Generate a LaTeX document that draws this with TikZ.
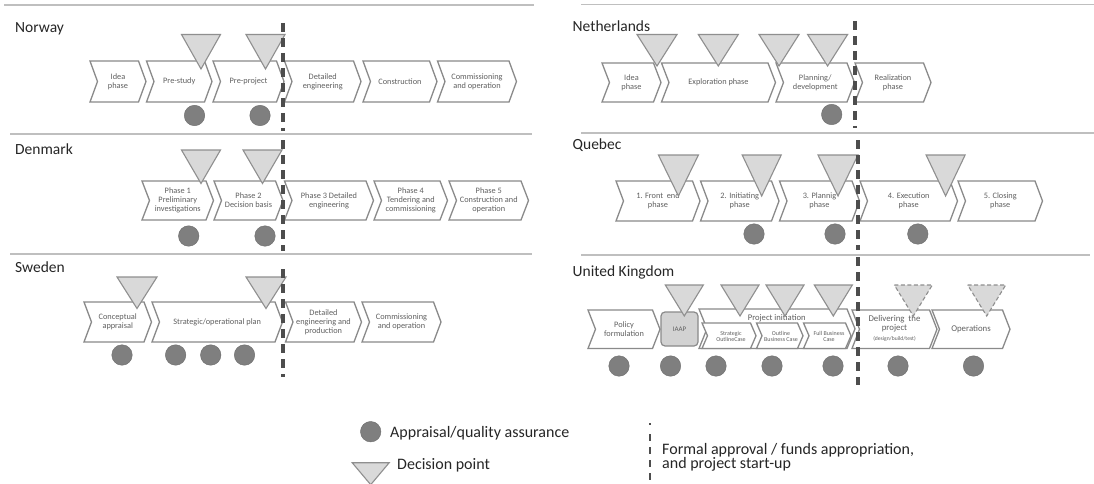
\documentclass[tikz,border=0pt]{standalone}
\usepackage{fontspec}
\setmainfont{Carlito}
\usetikzlibrary{calc}

\definecolor{edge}{HTML}{8A8A8A}
\definecolor{lbl}{HTML}{606060}
\definecolor{trifill}{HTML}{D9D9D9}
\definecolor{tririm}{HTML}{8F8F8F}
\definecolor{dotfill}{HTML}{7F7F7F}
\definecolor{panelgray}{HTML}{BFBFBF}
\definecolor{gate}{HTML}{4D4D4D}
\definecolor{boxfill}{HTML}{D2D2D2}

\tikzset{
  chevbox/.style={draw=edge, line width=1.3pt, fill=white, line join=miter},
  chevtext/.style={text=lbl, font=\fontsize{8.3}{9}\selectfont, align=center, inner sep=0pt},
  smalltext/.style={text=lbl, font=\fontsize{6}{6.8}\selectfont, align=center, inner sep=0pt},
  decision/.style={draw=tririm, line width=1.1pt, fill=trifill, line join=miter},
  decisionopen/.style={decision, dash pattern=on 4pt off 2.5pt},
  appraisal/.style={circle, fill=dotfill, draw=dotfill!85!black, line width=0.4pt, minimum size=20.5pt, inner sep=0pt},
  gateline/.style={draw=gate, line width=3.3pt, dash pattern=on 9pt off 6pt},
  panelrule/.style={draw=panelgray, line width=1.4pt},
  country/.style={font=\fontsize{15.5}{18}\selectfont, text=black!85, anchor=west, inner sep=0pt},
  legendtext/.style={font=\fontsize{16}{14.5}\selectfont, text=black!85, anchor=west, inner sep=0pt, align=left},
  iaapbox/.style={draw=edge, line width=1.2pt, fill=boxfill, rounded corners=4pt,
    minimum width=37pt, minimum height=34pt, inner sep=0pt, text=lbl, font=\fontsize{7}{8}\selectfont},
}

% chevron depth (notch and tip)
\def\cd{7.5}
% #1 name, #2 left x, #3 tip x, #4 top y, #5 bottom y, #6 label
\newcommand\chev[6]{%
  \draw[chevbox] (#2,#4) -- ({#3-\cd},#4) -- (#3,{(#4+#5)/2}) -- ({#3-\cd},#5)
    -- (#2,#5) -- ({#2+\cd},{(#4+#5)/2}) -- cycle;
  \node[chevtext] (#1) at ({(#2+#3)/2},{(#4+#5)/2}) {#6};}
% decision triangle: #1 style, #2 centre x, #3 top y, #4 half width, #5 height
\newcommand\dpt[5]{%
  \draw[#1] ({#2-#4},#3) -- ({#2+#4},#3) -- (#2,{#3+#5}) -- cycle;}

\begin{document}
\begin{tikzpicture}[x=1pt,y=-1pt]
\useasboundingbox (0,0) rectangle (1094,484);
\fill[white] (0,0) rectangle (1094,484);

% ---------------- Norway ----------------
\draw[panelrule] (4,5) -- (534,5);
\node[country] (norway) at (15,29) {Norway};
\chev{no1}{90}{146}{61}{102}{Idea\\phase}
\chev{no2}{146.5}{212}{61}{102}{Pre-study}
\chev{no3}{213}{284}{61}{102}{Pre-project}
\chev{no4}{284.5}{361}{61}{102}{Detailed\\engineering}
\chev{no5}{363}{437}{61}{102}{Construction}
\chev{no6}{437.5}{516.5}{61}{102}{Commissioning\\and operation}
\dpt{decision}{201}{34.5}{19.5}{34.5}
\dpt{decision}{265.5}{34.5}{19.5}{34.5}
\node[appraisal] (no-a1) at (194.5,115.5) {};
\node[appraisal] (no-a2) at (260,115.5) {};
\draw[gateline] (283,23) -- (283,131);

% ---------------- Denmark ----------------
\draw[panelrule] (10,134) -- (532,134);
\node[country] (denmark) at (15,149) {Denmark};
\chev{dk1}{142}{213.5}{181}{220}{Phase 1\\Preliminary\\investigations}
\chev{dk2}{214}{283}{181}{220}{Phase 2\\Decision basis}
\chev{dk3}{284.5}{373.5}{181}{220}{Phase 3 Detailed\\engineering}
\chev{dk4}{374}{447.5}{181}{220}{Phase 4\\Tendering and\\commissioning}
\chev{dk5}{449}{528.5}{181}{220}{Phase 5\\Construction and\\operation}
\dpt{decision}{201}{150}{19.5}{33.5}
\dpt{decision}{262.5}{150}{19.5}{33.5}
\node[appraisal] (dk-a1) at (188.7,236) {};
\node[appraisal] (dk-a2) at (265,236) {};
\draw[gateline] (283,140) -- (283,250.5);

% ---------------- Sweden ----------------
\draw[panelrule] (10,254) -- (532,254);
\node[country] (sweden) at (15,267) {Sweden};
\chev{se1}{84}{151.5}{302}{342}{Conceptual\\appraisal}
\chev{se2}{152}{282.5}{302}{342}{Strategic/operational plan}
\chev{se3}{285.5}{361.5}{302}{342}{Detailed\\engineering and\\production}
\chev{se4}{362}{441}{302}{342}{Commissioning\\and operation}
\dpt{decision}{137}{277}{20}{31.5}
\dpt{decision}{266}{277}{20}{31.5}
\node[appraisal] (se-a1) at (122,355) {};
\node[appraisal] (se-a2) at (175.6,355) {};
\node[appraisal] (se-a3) at (210.7,355) {};
\node[appraisal] (se-a4) at (244.5,355) {};
\draw[gateline] (283,269) -- (283,377);

% ---------------- Netherlands ----------------
\draw[panelrule] (581,4.5) -- (1094,4.5);
\node[country] (netherlands) at (572.5,26) {Netherlands};
\chev{nl1}{602}{661}{63}{102}{Idea\\phase}
\chev{nl2}{661.5}{775.5}{63}{102}{Exploration phase}
\chev{nl3}{776}{854.5}{63}{102}{Planning/\\development}
\chev{nl4}{855}{931}{63}{102}{Realization\\phase}
\dpt{decision}{657}{34.5}{20}{31.5}
\dpt{decision}{718.3}{34.5}{20}{31.5}
\dpt{decision}{779}{34.5}{20}{31.5}
\dpt{decision}{827.6}{34.5}{20}{31.5}
\node[appraisal] (nl-a1) at (831.7,114.5) {};
\draw[gateline] (855,21) -- (855,128);

% ---------------- Quebec ----------------
\draw[panelrule] (581,133) -- (1094,133);
\node[country] (quebec) at (572.5,145.6) {Quebec};
\chev{qc1}{616}{700}{181}{221}{1. Front~ end\\phase}
\chev{qc2}{700.5}{779}{181}{221}{2. Initiating\\phase}
\chev{qc3}{779.5}{859.5}{181}{221}{3. Plannig\\phase}
\chev{qc4}{860}{957.5}{181}{221}{4. Execution\\phase}
\chev{qc5}{958}{1042.5}{181}{221}{5. Closing\\phase}
\dpt{decision}{678.4}{155}{20}{41}
\dpt{decision}{761.7}{155}{19.5}{41}
\dpt{decision}{838}{155}{20}{41}
\dpt{decision}{945.6}{155}{19.5}{41}
\node[appraisal] (qc-a1) at (754,234) {};
\node[appraisal] (qc-a2) at (835,234) {};
\node[appraisal] (qc-a3) at (917.8,234) {};
\draw[gateline] (858,140) -- (858,249.7);

% ---------------- United Kingdom ----------------
\draw[panelrule] (581,255) -- (1090,255);
\node[country] (uk) at (572.5,272.5) {United Kingdom};
\chev{uk1}{588}{660}{310}{348.5}{Policy\\formulation}
\node[iaapbox] (uk2) at (679.5,329) {IAAP};
% project initiation with its three business cases
\draw[chevbox] (699,309) -- (847,309) -- (855,328.75) -- (847,348.5)
  -- (699,348.5) -- (707,328.75) -- cycle;
\node[chevtext, font=\fontsize{8.6}{9}\selectfont] (uk3) at (776.7,318) {Project initiation};
{\def\cd{5.5}
\chev{uk3a}{702}{756}{323}{348.5}{}
\chev{uk3b}{756.5}{803}{323}{348.5}{}
\chev{uk3c}{803.5}{851}{323}{348.5}{}
}
\node[smalltext] (uk3a-t) at (731,336.5) {Strategic\\OutlineCase};
\node[smalltext] (uk3b-t) at (781,336.5) {Outline\\Business Case};
\node[smalltext] (uk3c-t) at (829,336.5) {Full Business\\Case};
\chev{uk4}{852}{937}{310}{348.5}{}
\node[chevtext, font=\fontsize{8.8}{9.5}\selectfont] (uk4-t) at (894.5,323.5) {Delivering~ the\\project};
\node[smalltext, font=\fontsize{5.6}{6}\selectfont] (uk4-s) at (894.5,338.5) {(design/build/test)};
\chev{uk5}{932}{1010}{310}{348.5}{\fontsize{8.8}{9.5}\selectfont Operations}
\dpt{decision}{684.3}{285}{19}{31}
\dpt{decision}{740}{285}{19}{31}
\dpt{decision}{785}{285}{19}{31}
\dpt{decision}{833.3}{285}{19}{31}
\dpt{decisionopen}{913.3}{285}{19}{31}
\dpt{decisionopen}{986.7}{285}{19}{31}
\node[appraisal] (uk-a1) at (619,366) {};
\node[appraisal] (uk-a2) at (670.5,366) {};
\node[appraisal] (uk-a3) at (716,366) {};
\node[appraisal] (uk-a4) at (772,366) {};
\node[appraisal] (uk-a5) at (833,366) {};
\node[appraisal] (uk-a6) at (898,366) {};
\node[appraisal] (uk-a7) at (973.5,366) {};
\draw[gateline] (858,257) -- (858,385);

% ---------------- Legend ----------------
\node[appraisal] (lg-dot) at (370.7,431.7) {};
\node[legendtext] (lg-dot-t) at (390,433) {Appraisal/quality assurance};
\dpt{decision}{370.7}{462.7}{18.5}{22}
\node[legendtext] (lg-tri-t) at (397,465.5) {Decision point};
\coordinate (lg-gate-top) at (650,423);
\coordinate (lg-gate-bot) at (650,486);
\draw[draw=gate, line width=2.4pt, dash pattern=on 2pt off 9pt on 7pt off 6pt on 7pt off 6pt on 7pt off 6pt on 7pt off 6pt]
  (lg-gate-top) -- (lg-gate-bot);
\node[legendtext] (lg-gate-t) at (662,457.5) {Formal approval / funds appropriation,\\and project start-up};
\end{tikzpicture}
\end{document}
